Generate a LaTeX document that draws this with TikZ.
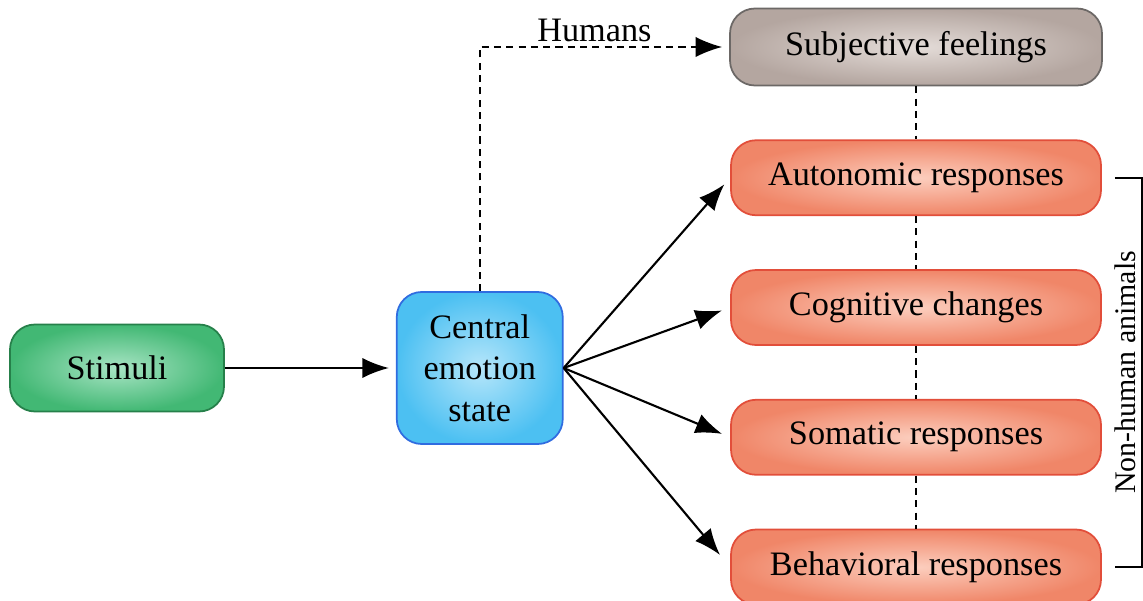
\documentclass[tikz,border=0pt]{standalone}
\usepackage{fontspec}
\setmainfont{Liberation Serif}
\usetikzlibrary{arrows.meta,positioning}
\definecolor{stimedge}{RGB}{38,128,74}
\definecolor{stimin}{RGB}{168,228,196}
\definecolor{stimout}{RGB}{66,184,116}
\definecolor{cesedge}{RGB}{48,108,224}
\definecolor{cesin}{RGB}{182,230,250}
\definecolor{cesout}{RGB}{76,192,242}
\definecolor{subjedge}{RGB}{108,104,102}
\definecolor{subjin}{RGB}{228,220,216}
\definecolor{subjout}{RGB}{180,166,160}
\definecolor{respedge}{RGB}{226,78,58}
\definecolor{respin}{RGB}{252,206,190}
\definecolor{respout}{RGB}{240,134,104}

\begin{document}
\begin{tikzpicture}[>={Latex[length=15pt,width=11.5pt]},line width=1.2pt,
    font=\fontsize{19.5}{23.5}\selectfont,node distance=1.06cm,
    every node/.style={align=center},
    box/.style={draw,rounded corners=0.5cm,inner sep=0pt,line width=1pt},
    resp/.style={box,draw=respedge,inner color=respin,outer color=respout,
      minimum width=7.4cm,minimum height=1.5cm},
    link/.style={dash pattern=on 4pt off 3pt,line width=0.9pt}]
    \useasboundingbox (0,0) rectangle (22.86,-12.02);
    \node[box,draw=stimedge,inner color=stimin,outer color=stimout,
      minimum width=4.28cm,minimum height=1.74cm] (stim) at (2.34,-7.36) {Stimuli};
    \node[box,draw=cesedge,inner color=cesin,outer color=cesout,
      minimum width=3.32cm,minimum height=3.04cm,right=3.42cm of stim] (ces)
      {Central\\emotion\\state};
    \node[box,draw=subjedge,inner color=subjin,outer color=subjout,
      minimum width=7.44cm,minimum height=1.54cm] (subj) at (18.32,-0.94)
      {Subjective feelings};
    \node[resp,below=of subj] (aut) {Autonomic responses};
    \node[resp,below=of aut] (cog) {Cognitive changes};
    \node[resp,below=of cog] (som) {Somatic responses};
    \node[resp,below=of som] (beh) {Behavioral responses};
    % links between the output boxes
    \foreach \a/\b in {subj/aut,aut/cog,cog/som,som/beh}
      \draw[link] (\a.south) -- (\b.north);
    \draw[->,shorten >=4pt] (stim) -- (ces);
    \draw[->,link,shorten >=4pt] (ces.north) |- node[pos=0.73,above=-1pt]{Humans} (subj.west);
    \foreach \n in {aut,cog,som}
      \draw[->,shorten >=5pt] (ces.east) -- (\n.west);
    \draw[->,shorten >=9pt] (ces.east) -- (beh.west);
    % bracket
    \draw[line width=0.9pt] ([xshift=2.6mm]aut.east) -- ([xshift=8mm]aut.east)
      -- node[rotate=90,anchor=south,inner sep=3pt,font=\fontsize{17}{20}\selectfont]{Non-human animals}
      ([xshift=8mm]beh.east) -- ([xshift=2.6mm]beh.east);
\end{tikzpicture}
\end{document}
